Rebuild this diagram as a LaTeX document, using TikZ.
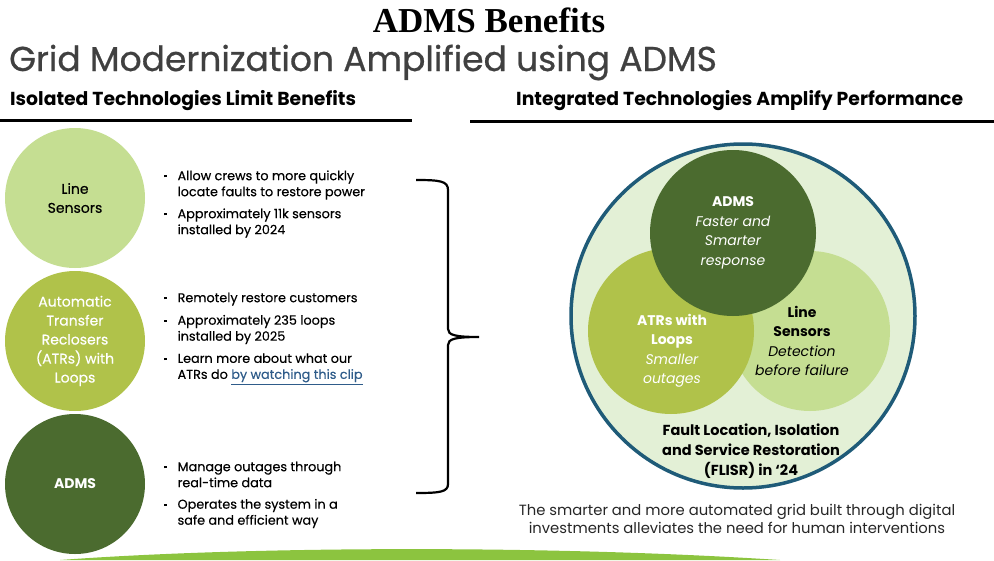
\documentclass[tikz,border=0pt]{standalone}
\usepackage{fontspec}
\setmainfont{Liberation Serif}
\newfontfamily\gothic{Poppins}
\newfontfamily\gothicmid[FakeBold=0.35]{Poppins}
\newfontfamily\gothicsub[FakeBold=0.7]{Poppins}
\usetikzlibrary{positioning}

\definecolor{sensorgreen}{HTML}{C5DE92}
\definecolor{atrgreen}{HTML}{B0C24A}
\definecolor{admsgreen}{HTML}{4B6B2F}
\definecolor{flisrfill}{HTML}{E3F0D6}
\definecolor{flisrline}{HTML}{1F5B78}
\definecolor{linkblue}{HTML}{2F5C8A}
\definecolor{titlegray}{HTML}{404040}
\definecolor{bargreen}{HTML}{8CC43F}

% fades out at both ends
\pgfdeclarehorizontalshading{bandfade}{100bp}{color(0bp)=(white); color(12bp)=(bargreen!60); color(25bp)=(bargreen); color(80bp)=(bargreen); color(100bp)=(white)}

% small square bullet and the two kinds of bullet points
\newcommand\dotmark{\raisebox{2.8pt}{\rule{2.4pt}{2.4pt}}}
\newcommand\pointtwo[2]{\begin{tabular}{@{}l@{\hspace{11pt}}l@{}}\dotmark & #1\\ & #2\end{tabular}}
\newcommand\pointone[1]{\begin{tabular}{@{}l@{\hspace{11pt}}l@{}}\dotmark & #1\end{tabular}}

\tikzset{
  heading/.style={anchor=west, inner sep=0pt, font=\gothic\bfseries\fontsize{18.8}{22}\selectfont},
  bigdot/.style={circle, minimum size=140pt, inner sep=0pt, align=center, font=\gothicmid\fontsize{14}{19}\selectfont},
  point/.style={anchor=west, inner sep=0pt, font=\gothicmid\fontsize{12.8}{16}\selectfont},
  venn/.style={circle, inner sep=0pt},
  venntext/.style={align=center, inner sep=0pt, font=\gothic\fontsize{14}{19.5}\selectfont},
  headrule/.style={line width=3pt},
}

\begin{document}
\begin{tikzpicture}[x=1pt, y=-1pt]
\useasboundingbox (0,0) rectangle (994,560);

% titles
\node[font=\bfseries\fontsize{35}{38}\selectfont] (title) at (489,20) {ADMS Benefits};
\node[anchor=base west, inner sep=0pt, text=titlegray, font=\gothicsub\fontsize{34.5}{38}\selectfont] (subtitle) at (9,71) {Grid Modernization Amplified using ADMS};

\node[heading] (left head) at (10,101) {Isolated Technologies Limit Benefits};
\node[heading] (right head) at (516,101) {Integrated Technologies Amplify Performance};
\draw[headrule] (0,120) -- (412,120);
\draw[headrule] (470,121) -- (994,121);

% isolated technologies
\node[bigdot, fill=sensorgreen] (sensor dot) at (75,198) {Line\\Sensors};
\node[bigdot, fill=atrgreen, text=white] (atr dot) at (75,341) {Automatic\\Transfer\\Reclosers\\(ATRs) with\\Loops};
\node[bigdot, fill=admsgreen, text=white, font=\gothic\bfseries\fontsize{14}{19}\selectfont] (adms dot) at (75,484) {ADMS};

\node[point] (p1) at (164,185) {\pointtwo{Allow crews to more quickly}{locate faults to restore power}};
\node[point] (p2) at (164,223) {\pointtwo{Approximately 11k sensors}{installed by 2024}};
\node[point] (p3) at (164,299) {\pointone{Remotely restore customers}};
\node[point] (p4) at (164,329.5) {\pointtwo{Approximately 235 loops}{installed by 2025}};
\node[point] (p5) at (164,368) {\pointtwo{Learn more about what our}{ATRs do \textcolor{linkblue}{\underline{by watching this clip}}}};
\node[point] (p6) at (164,476) {\pointtwo{Manage outages through}{real-time data}};
\node[point] (p7) at (164,513.5) {\pointtwo{Operates the system in a}{safe and efficient way}};

% brace joining the three technologies
\coordinate (brace top) at (416,180);
\coordinate (brace tip) at (479,337);
\coordinate (brace bottom) at (416,493);
\draw[line width=2.2pt] (brace top) .. controls (440,180) and (448,181) .. (448,190)
  -- (448,329) .. controls (448,335) and (455,337) .. (brace tip)
  .. controls (455,337) and (448,339) .. (448,345)
  -- (448,484) .. controls (448,492) and (440,493) .. (brace bottom);

% integrated technologies
\node[venn, fill=flisrfill, draw=flisrline, line width=3.5pt, minimum size=344pt] (flisr) at (743,316) {};
\node[venn, fill=sensorgreen, minimum size=160pt] (sensors) at (810,331) {};
\node[venn, fill=atrgreen, minimum size=166pt] (atrs) at (671,331) {};
\node[venn, fill=admsgreen, minimum size=166pt] (adms) at (733,233) {};

\node[venntext, text=white] (adms text) at (733,233) {{\bfseries ADMS}\\{\itshape Faster and}\\{\itshape Smarter}\\{\itshape response}};
\node[venntext, text=white] (atrs text) at (672,351) {{\bfseries ATRs with}\\{\bfseries Loops}\\{\itshape Smaller}\\{\itshape outages}};
\node[venntext, text=black] (sensors text) at (802,341) {{\bfseries Line}\\{\bfseries Sensors}\\{\itshape Detection}\\{\itshape before failure}};
\node[venntext, font=\gothic\bfseries\fontsize{14.5}{20}\selectfont] (flisr text) at (751,451) {Fault Location, Isolation\\and Service Restoration\\(FLISR) in ‘24};

\node[align=center, inner sep=0pt, text=black!85, font=\gothic\fontsize{14.8}{18}\selectfont] (caption) at (737,519) {The smarter and more automated grid built through digital\\investments alleviates the need for human interventions};

% green band along the bottom
\shade[shading=bandfade] (60,560) .. controls (250,546) and (550,545) .. (780,560) -- cycle;
\end{tikzpicture}
\end{document}
